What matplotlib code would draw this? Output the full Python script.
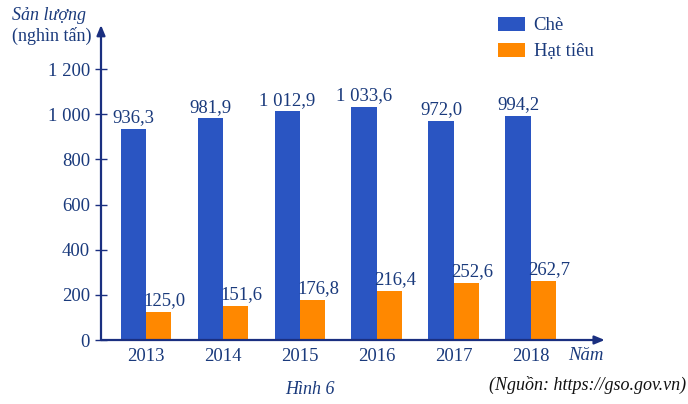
import matplotlib
matplotlib.use("Agg")
import matplotlib.pyplot as plt
import numpy as np

years = ["2013", "2014", "2015", "2016", "2017", "2018"]
che = [936.3, 981.9, 1012.9, 1033.6, 972.0, 994.2]
hat_tieu = [125.0, 151.6, 176.8, 216.4, 252.6, 262.7]
yticks = [0, 200, 400, 600, 800, 1000, 1200]

BLUE = "#2a55c2"
ORANGE = "#ff8800"
TXT = "#1a3a7c"
AX = "#1a2f80"
FS = 13.5

plt.rcParams["font.family"] = ["Liberation Serif", "DejaVu Serif"]

def fmt(v, dec=1):
    s = f"{v:,.{dec}f}"
    s = s.replace(",", " ").replace(".", ",")
    return s

fig = plt.figure(figsize=(6.88, 4.04), dpi=100)
ax = fig.add_axes([0.1468, 0.1584, 0.879 - 0.1468, 0.938 - 0.1584])

x = np.arange(len(years))
w = 0.33
ax.bar(x - w / 2, che, width=w, color=BLUE, label="Chè", zorder=2)
ax.bar(x + w / 2, hat_tieu, width=w, color=ORANGE, label="Hạt tiêu", zorder=2)

for xi, v in zip(x, che):
    ax.text(xi - w / 2, v + 12, fmt(v), ha="center", va="bottom", fontsize=FS, color=TXT)
for xi, v in zip(x, hat_tieu):
    ax.text(xi + w / 2 + 0.07, v + 12, fmt(v), ha="center", va="bottom", fontsize=FS, color=TXT)

ax.set_xlim(-0.584, 5.96)
ax.set_ylim(0, 1395)
for s in ax.spines.values():
    s.set_visible(False)

ax.set_yticks(yticks)
ax.set_yticklabels([fmt(t, 0) for t in yticks], fontsize=FS, color=TXT)
ax.tick_params(axis="y", direction="inout", length=8, width=1, color=AX, pad=4)
ax.set_xticks(x)
ax.set_xticklabels(years, fontsize=FS, color=TXT)
ax.tick_params(axis="x", length=0, pad=6)

ax.annotate("", xy=(0, 1.0), xytext=(0, 0), xycoords="axes fraction",
            arrowprops=dict(arrowstyle="-|>,head_length=0.6,head_width=0.25", color=AX, lw=1.6,
                            shrinkA=0, shrinkB=0), zorder=3)
ax.annotate("", xy=(1.0, 0), xytext=(0, 0), xycoords="axes fraction",
            arrowprops=dict(arrowstyle="-|>,head_length=0.6,head_width=0.25", color=AX, lw=1.6,
                            shrinkA=0, shrinkB=0), zorder=3)

fig.text(12 / 688, 1 - 15 / 404, "Sản lượng", fontsize=13, style="italic", color=TXT, va="center", ha="left")
fig.text(12 / 688, 1 - 36 / 404, "(nghìn tấn)", fontsize=13, color=TXT, va="center", ha="left")
fig.text(568 / 688, 1 - 355 / 404, "Năm", fontsize=13.5, style="italic", color=TXT, va="center", ha="left")
fig.text(310 / 688, 1 - 390 / 404, "Hình 6", fontsize=13, style="italic", color=TXT, va="center", ha="center")
fig.text(686 / 688, 1 - 385 / 404, "(Nguồn: https://gso.gov.vn)", fontsize=13, style="italic",
         color="#111111", va="center", ha="right")

leg = fig.legend(loc="upper left", bbox_to_anchor=(498 / 688, 1 - 17 / 404), frameon=False,
                 fontsize=13.5, handlelength=1.45, handleheight=0.75, labelspacing=0.45,
                 handletextpad=0.45, borderpad=0, borderaxespad=0)
for t in leg.get_texts():
    t.set_color(TXT)

fig.savefig("out.png", dpi=100)
